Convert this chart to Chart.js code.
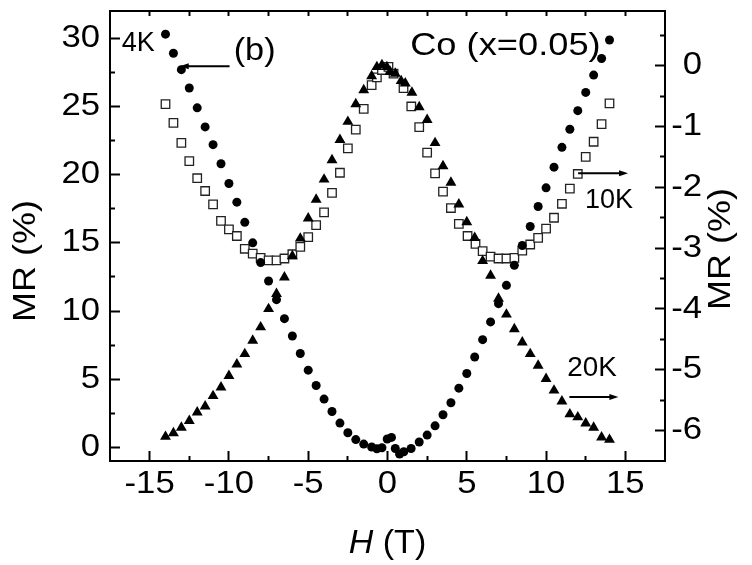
<!DOCTYPE html>
<html>
<head>
<meta charset="utf-8">
<script src="https://cdn.jsdelivr.net/npm/chart.js@4.4.0/dist/chart.umd.min.js"></script>
<style>
html,body{margin:0;padding:0;background:#fff;}
#wrap{width:752px;height:565px;}
</style>
</head>
<body>
<div id="wrap"><canvas id="c" width="752" height="565"></canvas></div>
<script>
// ---- data ----
const H_4K  = [-14.0,-13.5,-13.0,-12.5,-12.0,-11.5,-11.0,-10.5,-10.0,-9.5,-9.0,-8.5,-8.0,-7.5,-7.0,-6.5,-6.0,-5.5,-5.0,-4.5,-4.0,-3.5,-3.0,-2.5,-2.0,-1.5,-1.0,-0.67,-0.35,-0.02,0.25,0.49,0.76,1.03,1.49,2.0,2.5,3.0,3.5,4.0,4.5,5.0,5.5,6.0,6.5,7.0,7.5,8.0,8.5,9.0,9.5,10.0,10.5,11.0,11.5,12.0,12.5,13.0,13.5,14.0];
const MR_4K = [30.3,28.9,27.7,26.35,24.9,23.5,22.2,20.8,19.35,17.98,16.5,15.0,13.55,12.2,10.83,9.44,8.17,6.88,5.66,4.54,3.54,2.63,1.78,1.07,0.57,0.24,0.03,-0.11,-0.03,0.61,0.73,-0.08,-0.49,-0.32,-0.08,0.39,0.9,1.58,2.39,3.27,4.34,5.42,6.63,7.9,9.2,10.54,11.88,13.35,14.8,16.2,17.66,19.03,20.55,22.0,23.33,24.69,26.03,27.3,28.52,29.87];

const H_10K  = [-14.0,-13.5,-13.0,-12.5,-12.0,-11.5,-11.0,-10.5,-10.0,-9.5,-9.0,-8.5,-8.0,-7.5,-7.0,-6.5,-6.0,-5.5,-5.0,-4.5,-4.0,-3.5,-3.0,-2.5,-2.0,-1.5,-1.0,-0.67,-0.35,0.06,0.38,1.01,1.5,2.0,2.5,3.0,3.5,4.0,4.5,5.05,5.55,6.0,6.5,7.0,7.5,8.0,8.5,9.0,9.5,10.0,10.5,11.0,11.5,12.0,12.5,13.0,13.5,14.0];
const MR_10K = [-0.63,-0.94,-1.27,-1.57,-1.85,-2.06,-2.28,-2.55,-2.69,-2.8,-3.01,-3.09,-3.16,-3.2,-3.2,-3.17,-3.1,-2.98,-2.82,-2.62,-2.41,-2.09,-1.76,-1.36,-1.05,-0.71,-0.32,-0.19,-0.07,-0.02,-0.13,-0.37,-0.67,-1.01,-1.43,-1.77,-2.07,-2.34,-2.6,-2.8,-2.93,-3.05,-3.14,-3.17,-3.17,-3.16,-3.04,-2.94,-2.83,-2.68,-2.5,-2.27,-2.02,-1.78,-1.5,-1.25,-0.96,-0.62];

const H_20K  = [-14.0,-13.5,-13.0,-12.5,-12.0,-11.5,-11.0,-10.5,-10.0,-9.5,-9.0,-8.5,-8.0,-7.5,-7.0,-6.5,-6.0,-5.5,-5.0,-4.5,-4.0,-3.5,-3.0,-2.5,-2.0,-1.5,-1.0,-0.67,-0.35,-0.04,0.17,0.49,0.86,1.12,1.54,2.0,2.5,3.0,3.5,4.0,4.5,5.0,5.5,6.0,6.5,7.0,7.5,8.0,8.5,9.0,9.5,10.0,10.5,11.0,11.5,12.0,12.5,13.0,13.5,14.0];
const MR_20K = [-6.1,-6.04,-5.95,-5.84,-5.7,-5.6,-5.43,-5.29,-5.1,-4.91,-4.74,-4.52,-4.3,-4.0,-3.75,-3.48,-3.13,-2.84,-2.51,-2.2,-1.87,-1.55,-1.22,-0.92,-0.63,-0.4,-0.17,-0.02,0.01,-0.02,-0.1,-0.13,-0.25,-0.29,-0.44,-0.68,-0.89,-1.27,-1.65,-1.92,-2.28,-2.57,-2.83,-3.21,-3.45,-3.83,-4.09,-4.33,-4.55,-4.74,-4.93,-5.15,-5.34,-5.52,-5.73,-5.78,-5.88,-5.95,-6.11,-6.15];

// ---- tick values ----
const X_MAJOR_TICKS = [-15,-10,-5,0,5,10,15];
const X_MINOR_TICKS = [-12.5,-7.5,-2.5,2.5,7.5,12.5];
const X_TOP_TICKS   = [-15,-12.5,-10,-7.5,-5,-2.5,0,2.5,5,7.5,10,12.5,15];
const YL_MAJOR_TICKS = [0,5,10,15,20,25,30];
const YL_MINOR_TICKS = [2.5,7.5,12.5,17.5,22.5,27.5];
const YR_MAJOR_TICKS = [-6,-5,-4,-3,-2,-1,0];
const YR_MINOR_TICKS = [-5.5,-4.5,-3.5,-2.5,-1.5,-0.5,0.5];

// ---- annotation text ----
const NOTE_TEXTS = ['4K','(b)','Co (x=0.05)','10K','20K'];
const X_TITLE_ITALIC = 'H';
const X_TITLE_REST = ' (T)';
const Y_TITLE = 'MR (%)';

const FONT = '"Liberation Sans", Arial, sans-serif';
const BLACK = '#000';
const TICK_STRETCH = 1.12;
const YTITLE_STRETCH = 1.16;

// annotation placement in data coordinates (x: H, y: left MR axis)
const notes = [
  {text: NOTE_TEXTS[0], x: -16.76, y: 29.63, size: 27, sx: 1.0},
  {text: NOTE_TEXTS[1], x: -9.70,  y: 29.05, size: 32, sx: 1.07},
  {text: NOTE_TEXTS[2], x: 1.43,   y: 29.40, size: 31, sx: 1.17},
  {text: NOTE_TEXTS[3], x: 12.46,  y: 18.10, size: 27, sx: 1.0},
  {text: NOTE_TEXTS[4], x: 11.34,  y: 5.78,  size: 27, sx: 1.03}
];
const arrows = [
  {from: -9.96, to: -13.10, y: 27.94},
  {from: 12.02, to: 15.17,  y: 20.10},
  {from: 11.47, to: 14.56,  y: 3.70}
];

const pts = (xs, ys) => xs.map((x, i) => ({x, y: ys[i]}));
const setTicks = arr => s => { s.ticks = arr.map(v => ({value: v})); };
const zeroPad = s => { s.paddingTop = 0; s.paddingBottom = 0; s.paddingLeft = 0; s.paddingRight = 0; };

function axis(o) {
  return {
    type: 'linear',
    position: o.position,
    min: o.min, max: o.max,
    weight: o.weight,
    afterBuildTicks: setTicks(o.ticks),
    afterFit: s => {
      if (o.position === 'left' || o.position === 'right') s.width = o.size; else s.height = o.size;
      zeroPad(s);
    },
    border: {display: !!o.border, color: BLACK, width: 2},
    grid: {display: true, drawOnChartArea: false, drawTicks: true, tickLength: -o.tick, tickWidth: 2, tickColor: BLACK},
    ticks: {
      display: !!o.labels,
      autoSkip: false, maxRotation: 0, minRotation: 0,
      padding: o.pad || 0,
      crossAlign: o.crossAlign || 'near',
      color: BLACK,
      font: {family: FONT, size: 31},
      callback: v => String(v)
    }
  };
}

// horizontal text widening (the reference glyphs are wider than Arial's)
let TEXT_SX = 1;
const stretchPlugin = {
  id: 'stretch',
  beforeInit(chart) {
    const ctx = chart.ctx;
    const orig = ctx.fillText;
    ctx.fillText = function (t, x, y, mw) {
      if (TEXT_SX === 1) {
        return mw === undefined ? orig.call(ctx, t, x, y) : orig.call(ctx, t, x, y, mw);
      }
      ctx.save();
      ctx.translate(x, y);
      ctx.scale(TEXT_SX, 1);
      if (mw === undefined) orig.call(ctx, t, 0, 0); else orig.call(ctx, t, 0, 0, mw / TEXT_SX);
      ctx.restore();
    };
  },
  beforeDraw() { TEXT_SX = TICK_STRETCH; },
  afterDraw() { TEXT_SX = 1; }
};

const titlePlugin = {
  id: 'notes',
  afterDraw(chart) {
    const ctx = chart.ctx;
    const xs = chart.scales.x, ys = chart.scales.y;
    ctx.save();
    ctx.fillStyle = BLACK; ctx.strokeStyle = BLACK;
    ctx.textAlign = 'left'; ctx.textBaseline = 'middle';
    for (const n of notes) {
      ctx.font = n.size + 'px ' + FONT;
      TEXT_SX = n.sx;
      ctx.fillText(n.text, xs.getPixelForValue(n.x), ys.getPixelForValue(n.y));
    }
    TEXT_SX = 1;
    for (const a of arrows) {
      const x1 = xs.getPixelForValue(a.from), x2 = xs.getPixelForValue(a.to), y = ys.getPixelForValue(a.y);
      const dir = Math.sign(x2 - x1);
      ctx.lineWidth = 2;
      ctx.beginPath(); ctx.moveTo(x1, y); ctx.lineTo(x2 - dir * 5, y); ctx.stroke();
      ctx.beginPath(); ctx.moveTo(x2, y); ctx.lineTo(x2 - dir * 9, y - 3); ctx.lineTo(x2 - dir * 9, y + 3); ctx.closePath(); ctx.fill();
    }
    // y axis titles (rotated)
    const area = chart.chartArea;
    const midY = (area.top + area.bottom) / 2;
    ctx.font = '31px ' + FONT;
    ctx.textAlign = 'center'; ctx.textBaseline = 'middle';
    TEXT_SX = YTITLE_STRETCH;
    ctx.save(); ctx.translate(area.left - 84, midY + 25); ctx.rotate(-Math.PI / 2);
    ctx.fillText(Y_TITLE, 0, 0); ctx.restore();
    ctx.save(); ctx.translate(area.right + 56, midY + 13); ctx.rotate(-Math.PI / 2);
    ctx.fillText(Y_TITLE, 0, 0); ctx.restore();
    TEXT_SX = 1;
    // x title with italic H
    ctx.textAlign = 'left'; ctx.textBaseline = 'alphabetic';
    ctx.font = 'italic 34px ' + FONT;
    const wH = ctx.measureText(X_TITLE_ITALIC).width;
    ctx.font = '34px ' + FONT;
    const wR = ctx.measureText(X_TITLE_REST).width;
    const cx = (area.left + area.right) / 2;
    const x0 = cx - (wH + wR) / 2;
    const by = area.bottom + 92;
    ctx.font = 'italic 34px ' + FONT;
    ctx.fillText(X_TITLE_ITALIC, x0, by);
    ctx.font = '34px ' + FONT;
    ctx.fillText(X_TITLE_REST, x0 + wH, by);
    ctx.restore();
  }
};

new Chart(document.getElementById('c'), {
  type: 'scatter',
  data: {
    datasets: [
      {label: '4K', data: pts(H_4K, MR_4K), xAxisID: 'x', yAxisID: 'y',
       pointStyle: 'circle', pointRadius: 4.5, pointHoverRadius: 4.5, backgroundColor: BLACK, borderColor: BLACK, borderWidth: 0, showLine: false},
      {label: '20K', data: pts(H_20K, MR_20K), xAxisID: 'x', yAxisID: 'y2',
       pointStyle: 'triangle', pointRadius: 6.3, pointHoverRadius: 6.3, backgroundColor: BLACK, borderColor: BLACK, borderWidth: 0, showLine: false},
      {label: '10K', data: pts(H_10K, MR_10K), xAxisID: 'x', yAxisID: 'y2',
       pointStyle: 'rect', pointRadius: 6, pointHoverRadius: 6, backgroundColor: '#fff', borderColor: '#222', borderWidth: 1.3, showLine: false}
    ]
  },
  options: {
    responsive: false,
    animation: false,
    devicePixelRatio: 1,
    layout: {padding: {left: 0, top: 0, bottom: 0, right: 50}},
    plugins: {legend: {display: false}, tooltip: {enabled: false}},
    scales: {
      x:      axis({position: 'bottom', min: -17.5, max: 17.5, weight: 1, ticks: X_MAJOR_TICKS, size: 104, border: true, tick: 10, labels: true, pad: 15}),
      xMinor: axis({position: 'bottom', min: -17.5, max: 17.5, weight: 0, ticks: X_MINOR_TICKS, size: 0, tick: 5}),
      xTop:   axis({position: 'top',    min: -17.5, max: 17.5, weight: 0, ticks: X_TOP_TICKS, size: 11, border: true, tick: 5}),
      y:      axis({position: 'left',   min: -1, max: 32, weight: 1, ticks: YL_MAJOR_TICKS, size: 110, border: true, tick: 10, labels: true, pad: 20}),
      yMinor: axis({position: 'left',   min: -1, max: 32, weight: 0, ticks: YL_MINOR_TICKS, size: 0, tick: 5}),
      y2:     axis({position: 'right',  min: -6.5, max: 0.9, weight: 1, ticks: YR_MAJOR_TICKS, size: 37, border: true, tick: 10, labels: true, pad: 22, crossAlign: 'far'}),
      y2Minor:axis({position: 'right',  min: -6.5, max: 0.9, weight: 0, ticks: YR_MINOR_TICKS, size: 0, tick: 5})
    }
  },
  plugins: [stretchPlugin, titlePlugin]
});
</script>
</body>
</html>
